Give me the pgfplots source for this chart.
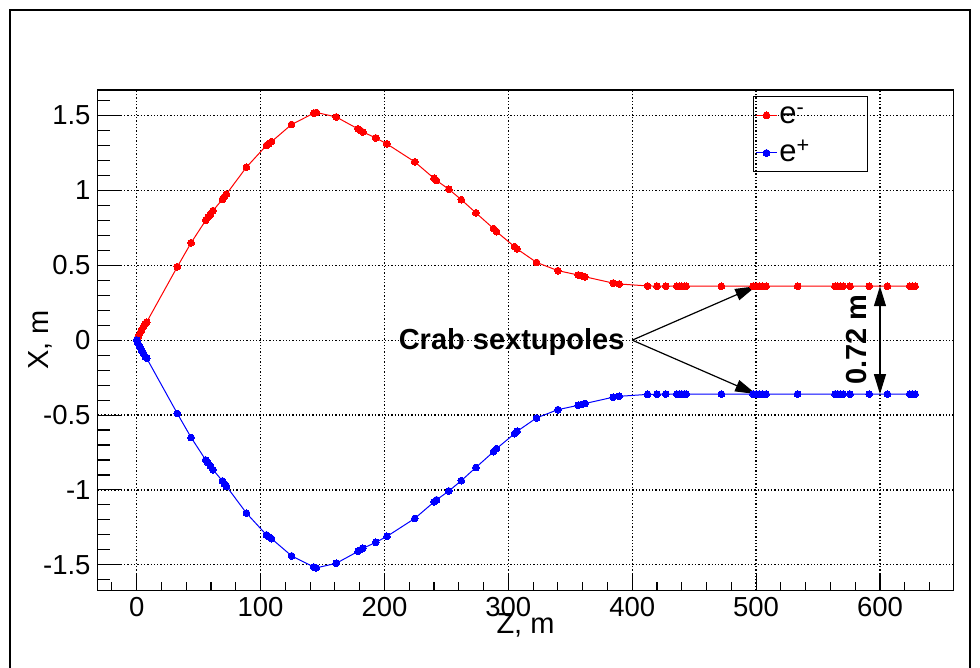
\documentclass[border=0pt]{standalone}
\usepackage{fontspec}
\setmainfont{Liberation Sans}
\usepackage{pgfplots}
\pgfplotsset{compat=1.18}
\usepackage{pgfplotstable}
\usetikzlibrary{arrows.meta}

% Beam orbits near the interaction point: Z along the line, X transverse
\pgfplotstableread{
z x
0 0
1 0.02
2.5 0.045
4 0.07
5.5 0.09
7 0.11
8 0.12
32.8 0.49
43.9 0.65
55.7 0.80
57.5 0.82
59.5 0.84
61.6 0.865
69.2 0.94
70.8 0.958
72.4 0.975
88.6 1.155
104.7 1.30
106.5 1.312
108.8 1.325
125 1.44
143 1.515
145 1.52
161 1.49
178.7 1.41
180.5 1.40
182.5 1.39
193 1.35
202 1.31
224.5 1.19
240 1.08
242 1.066
252 1.007
262 0.938
273.8 0.85
288 0.745
290.5 0.724
305 0.624
307 0.609
322.8 0.519
340 0.464
356.4 0.435
359 0.43
361.8 0.423
384.6 0.381
389.5 0.375
412.4 0.362
420 0.361
427 0.36
436 0.36
438 0.36
440 0.36
442 0.36
443.5 0.36
472 0.36
497.5 0.36
500 0.36
502.5 0.36
505 0.36
508 0.36
533.5 0.36
563.7 0.36
566 0.36
568 0.36
570.4 0.36
575.8 0.36
591.4 0.36
606 0.36
624 0.36
626 0.36
628.3 0.36
}\electron

\pgfplotstableread{
z x
0 0
1 -0.02
2.5 -0.045
4 -0.07
5.5 -0.09
7 -0.11
8 -0.12
32.8 -0.49
43.9 -0.65
55.7 -0.80
57.5 -0.82
59.5 -0.84
61.6 -0.865
69.2 -0.94
70.8 -0.958
72.4 -0.975
88.6 -1.155
104.7 -1.30
106.5 -1.312
108.8 -1.325
125 -1.44
143 -1.515
145 -1.52
161 -1.49
178.7 -1.41
180.5 -1.40
182.5 -1.39
193 -1.35
202 -1.31
224.5 -1.19
240 -1.08
242 -1.066
252 -1.007
262 -0.938
273.8 -0.85
288 -0.745
290.5 -0.724
305 -0.624
307 -0.609
322.8 -0.519
340 -0.464
356.4 -0.435
359 -0.43
361.8 -0.423
384.6 -0.381
389.5 -0.375
412.4 -0.362
420 -0.361
427 -0.36
436 -0.36
438 -0.36
440 -0.36
442 -0.36
443.5 -0.36
472 -0.36
497.5 -0.36
500 -0.36
502.5 -0.36
505 -0.36
508 -0.36
533.5 -0.36
563.7 -0.36
566 -0.36
568 -0.36
570.4 -0.36
575.8 -0.36
591.4 -0.36
606 -0.36
624 -0.36
626 -0.36
628.3 -0.36
}\positron

\begin{document}
\begin{tikzpicture}
\useasboundingbox (0,0) rectangle (980pt,-667pt);
\begin{axis}[
  at={(97.7pt,-590.3pt)}, anchor=south west,
  scale only axis, width=855.6pt, height=500.3pt,
  xmin=-31.5, xmax=659.2, ymin=-1.67, ymax=1.67,
  axis line style={line width=1.2pt},
  tick align=inside, tick pos=left,
  tick style={black, line width=1.1pt},
  xtick={0,100,200,300,400,500,600},
  xticklabels={0,100,200,300,400,500,600},
  ytick={-1.5,-1,-0.5,0,0.5,1,1.5},
  yticklabels={-1.5,-1,-0.5,0,0.5,1,1.5},
  minor x tick num=4, minor y tick num=4,
  xtick style={/pgfplots/major tick length=16pt, /pgfplots/minor tick length=8pt},
  ytick style={/pgfplots/major tick length=24pt, /pgfplots/minor tick length=12pt},
  extra x ticks={-20,620,640}, extra x tick labels={},
  extra x tick style={grid=none, xtick style={/pgfplots/major tick length=8pt}},
  extra y ticks={-1.6,1.6}, extra y tick labels={},
  extra y tick style={grid=none, ytick style={/pgfplots/major tick length=12pt}},
  grid=major,
  major grid style={black, line width=1.3pt, dash pattern=on 1.3pt off 2pt},
  xticklabel style={font=\fontsize{27.5}{30}\selectfont, anchor=north, inner sep=0pt, yshift=-6.4pt},
  yticklabel style={font=\fontsize{27.5}{30}\selectfont, anchor=east, inner sep=0pt, xshift=-7pt},
  xlabel={Z, m},
  ylabel={X, m},
  x label style={font=\fontsize{29}{32}\selectfont, at={(axis description cs:0.5,0)}, anchor=base, yshift=-42.7pt, inner sep=0pt},
  y label style={font=\fontsize{29}{32}\selectfont, at={(axis description cs:-0.0674,0.5)}, anchor=center, rotate=0, inner sep=0pt},
  legend image code/.code={\draw[mark repeat=2,mark phase=2,#1] plot coordinates {(0pt,0pt) (10.5pt,0pt) (21pt,0pt)};},
  legend cell align=left,
  legend style={at={(0.7655,0.988)}, anchor=north west, draw=black, fill=none,
    line width=1pt, inner xsep=2.3pt, inner ysep=0pt, column sep=0pt, row sep=0pt,
    font=\fontsize{31}{34}\selectfont,
    nodes={inner xsep=2pt, inner ysep=0pt, text height=27.3pt, text depth=10.3pt}},
]
\addplot[red, line width=1pt, mark=*, mark size=3.4pt, mark options={solid, fill=red, draw=red, line width=0pt}] table[x=z, y=x] {\electron};
\addlegendentry{\makebox[84pt][l]{e\textsuperscript{-}}}
\addplot[blue, line width=1pt, mark=*, mark size=3.4pt, mark options={solid, fill=blue, draw=blue, line width=0pt}] table[x=z, y=x] {\positron};
\addlegendentry{\makebox[84pt][l]{e\textsuperscript{+}}}

% crab sextupole pointers
\node[font=\fontsize{29}{32}\selectfont\bfseries, anchor=base east, inner sep=0pt, xshift=-7.6pt, yshift=-9pt] at (axis cs:400,0) {Crab sextupoles};
\draw[line width=1.2pt, -{Triangle[length=21pt,width=12pt]}] (axis cs:400,0) -- (axis cs:500,0.36);
\draw[line width=1.2pt, -{Triangle[length=21pt,width=12pt]}] (axis cs:400,0) -- (axis cs:500,-0.36);
% separation of the two orbits
\draw[line width=1.2pt, {Triangle[length=20pt,width=12pt]}-{Triangle[length=20pt,width=12pt]}] (axis cs:600,0.36) -- (axis cs:600,-0.36);
\node[font=\fontsize{29}{32}\selectfont\bfseries, rotate=90, anchor=base, inner sep=0pt] at (axis cs:589.3,0.005) {0.72 m};
\end{axis}
\draw[line width=2pt] (9.5pt,-10pt) rectangle (969.5pt,-700pt);
\end{tikzpicture}
\end{document}
